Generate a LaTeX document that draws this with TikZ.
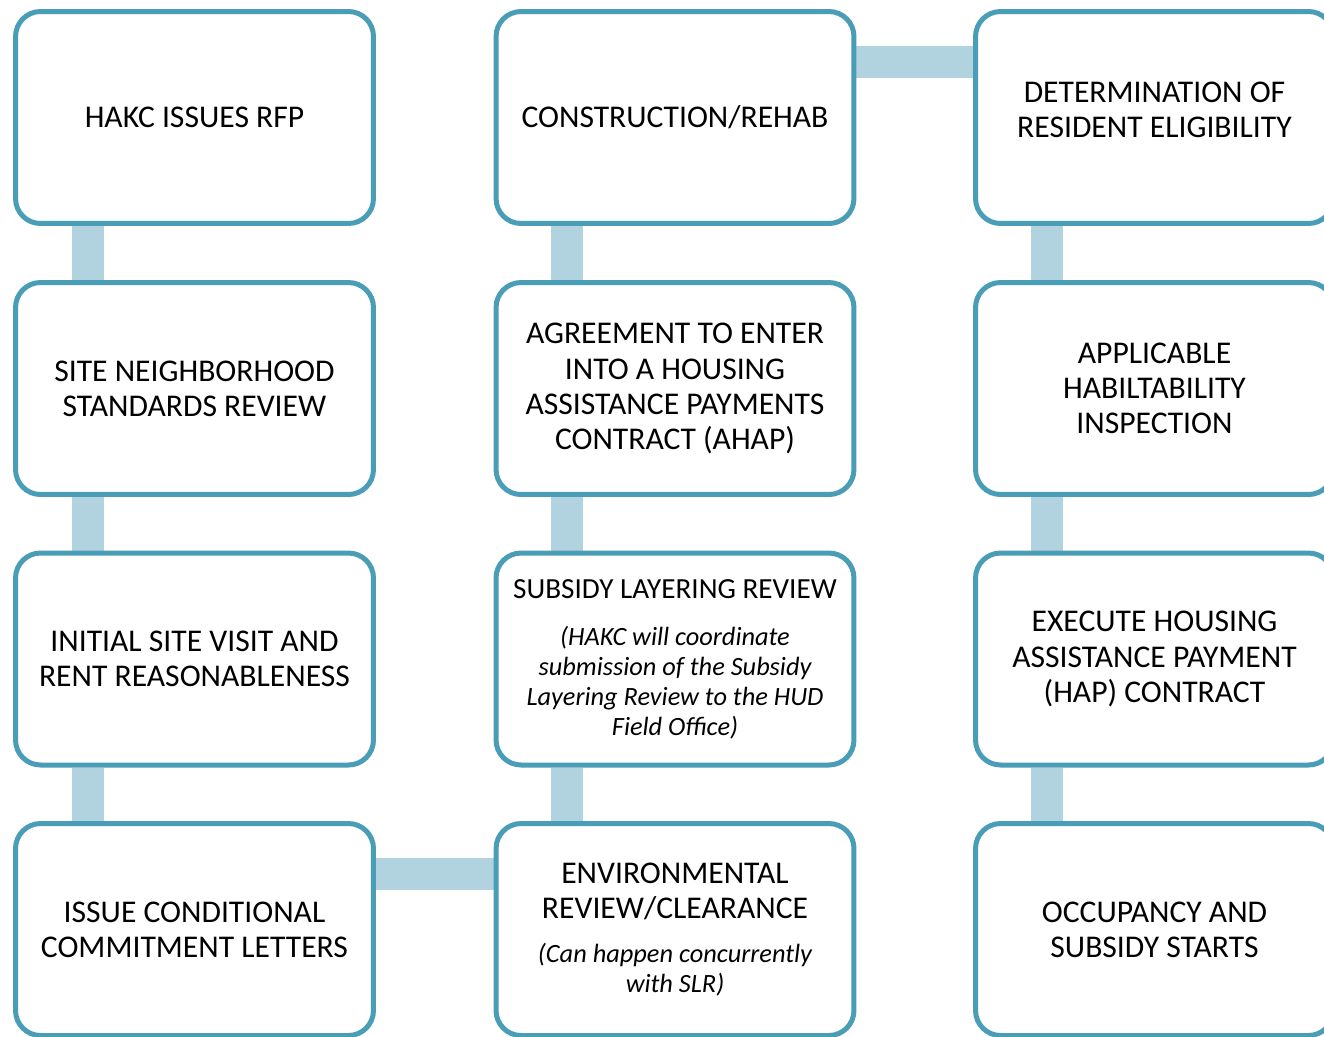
\documentclass[tikz,border=0pt]{standalone}
\usepackage{fontspec}
\setmainfont{Carlito}
\usetikzlibrary{backgrounds}
\definecolor{boxblue}{RGB}{74,157,182}
\definecolor{barblue}{RGB}{176,211,223}
\newcommand{\notefont}{\fontsize{15}{16.8}\selectfont\itshape}
\newcommand{\headfont}{\fontsize{16.6}{20}\selectfont}

\begin{document}
\begin{tikzpicture}[x=0.02cm,y=-0.02cm,
    box/.style={draw=boxblue,line width=0.1cm,fill=white,rounded corners=0.5cm,
      minimum width=7.16cm,minimum height=4.24cm,align=center,
      font=\fontsize{18}{20}\selectfont},
    bar/.style={draw=barblue,line width=0.64cm}]
  \useasboundingbox (0,0) rectangle (1324,1036);
  %% left column
  \node[box] (rfp) at (194.5,117.5) {HAKC ISSUES RFP};
  \node[box] (snsr) at (194.5,388.5) {SITE NEIGHBORHOOD\\STANDARDS REVIEW};
  \node[box] (visit) at (194.5,659) {INITIAL SITE VISIT AND\\RENT REASONABLENESS};
  \node[box] (letters) at (194.5,929.5) {ISSUE CONDITIONAL\\COMMITMENT LETTERS};
  %% middle column
  \node[box] (env) at (675,929.5) {ENVIRONMENTAL\\REVIEW/CLEARANCE\\[5pt]
    {\notefont (Can happen concurrently}\\[-3pt]{\notefont with SLR)}};
  \node[box] (slr) at (675,659) {{\headfont SUBSIDY LAYERING REVIEW}\\[7pt]
    {\notefont (HAKC will coordinate}\\[-3pt]{\notefont submission of the Subsidy}\\[-3pt]
    {\notefont Layering Review to the HUD}\\[-3pt]{\notefont Field Office)}};
  \node[box] (ahap) at (675,388.5) {AGREEMENT TO ENTER\\INTO A HOUSING\\ASSISTANCE PAYMENTS\\CONTRACT (AHAP)};
  \node[box] (rehab) at (675,117.5) {CONSTRUCTION/REHAB};
  %% right column
  \node[box] (elig) at (1154.5,117.5) {DETERMINATION OF\\RESIDENT ELIGIBILITY\\[-11pt]\mbox{}};
  \node[box] (insp) at (1154.5,388.5) {APPLICABLE\\HABILTABILITY\\INSPECTION};
  \node[box] (hap) at (1154.5,659) {EXECUTE HOUSING\\ASSISTANCE PAYMENT\\(HAP) CONTRACT};
  \node[box] (occ) at (1154.5,929.5) {OCCUPANCY AND\\SUBSIDY STARTS};

  \begin{scope}[on background layer]
    \draw[bar] ([xshift=-2.14cm]rfp.south) -- ([xshift=-2.14cm]snsr.north);
    \draw[bar] ([xshift=-2.14cm]snsr.south) -- ([xshift=-2.14cm]visit.north);
    \draw[bar] ([xshift=-2.14cm]visit.south) -- ([xshift=-2.14cm]letters.north);
    \draw[bar] ([yshift=1.11cm]letters.east) -- ([yshift=1.11cm]env.west);
    \draw[bar] ([xshift=-2.16cm]env.north) -- ([xshift=-2.16cm]slr.south);
    \draw[bar] ([xshift=-2.16cm]slr.north) -- ([xshift=-2.16cm]ahap.south);
    \draw[bar] ([xshift=-2.16cm]ahap.north) -- ([xshift=-2.16cm]rehab.south);
    \draw[bar] ([yshift=1.11cm]rehab.east) -- ([yshift=1.11cm]elig.west);
    \draw[bar] ([xshift=-2.16cm]elig.south) -- ([xshift=-2.16cm]insp.north);
    \draw[bar] ([xshift=-2.16cm]insp.south) -- ([xshift=-2.16cm]hap.north);
    \draw[bar] ([xshift=-2.16cm]hap.south) -- ([xshift=-2.16cm]occ.north);
  \end{scope}
\end{tikzpicture}
\end{document}
